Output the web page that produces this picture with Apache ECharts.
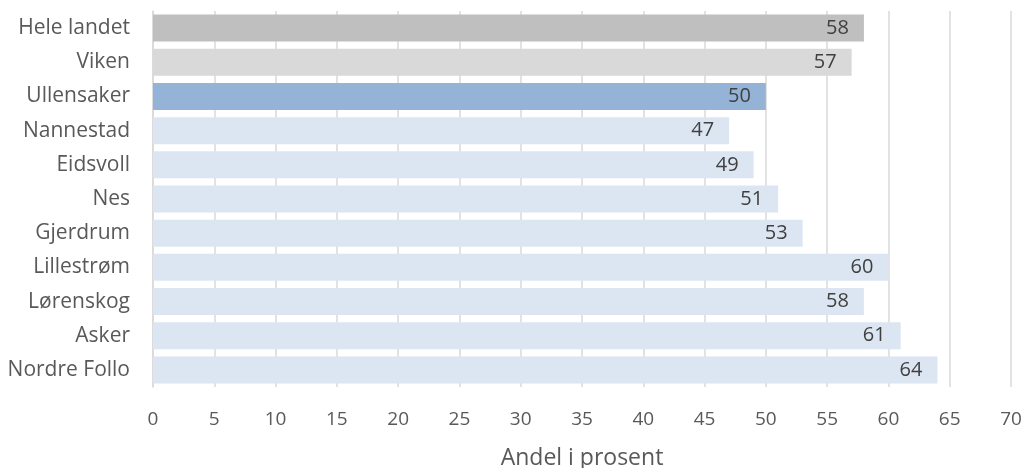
<!DOCTYPE html>
<html><head><meta charset="utf-8">
<script src="https://cdn.jsdelivr.net/npm/echarts@6/dist/echarts.min.js"></script>
<style>html,body{margin:0;padding:0;background:#fff}#c{width:1024px;height:468px}</style>
</head><body><div id="c"></div>
<script>
const categories = ["Hele landet","Viken","Ullensaker","Nannestad","Eidsvoll","Nes","Gjerdrum","Lillestrøm","Lørenskog","Asker","Nordre Follo"];
const values = [58,57,50,47,49,51,53,60,58,61,64];
const axisTitle = "Andel i prosent";
const barColors = ["#bfbfbf","#d9d9d9","#95b3d7","#dce6f2","#dce6f2","#dce6f2","#dce6f2","#dce6f2","#dce6f2","#dce6f2","#dce6f2"];

const font = "'Open Sans', sans-serif";
const chart = echarts.init(document.getElementById('c'));
chart.setOption({
  animation:false,
  grid:{left:153,right:13,top:11,bottom:81,containLabel:false,outerBoundsMode:'none'},
  xAxis:{type:'value',min:0,max:70,interval:5,
    axisLine:{show:false},axisTick:{show:false},
    splitLine:{lineStyle:{color:'#d9d9d9',width:1.5}},
    axisLabel:{color:'#595959',fontSize:19,fontFamily:font,margin:23},
    name:axisTitle,nameLocation:'middle',nameGap:60,
    nameTextStyle:{color:'#595959',fontSize:23,fontFamily:font}},
  yAxis:{type:'category',data:categories,inverse:true,
    axisLine:{show:true,lineStyle:{color:'#d9d9d9',width:1.5}},
    axisTick:{show:false},
    axisLabel:{color:'#595959',fontSize:21,fontFamily:font,margin:23}},
  series:[{type:'bar',barCategoryGap:'21%',
    data:values.map((v,i)=>({value:v,itemStyle:{color:barColors[i]}})),
    label:{show:true,position:'insideRight',distance:15,color:'#404040',fontSize:20,fontFamily:font}}]
});
</script></body></html>
